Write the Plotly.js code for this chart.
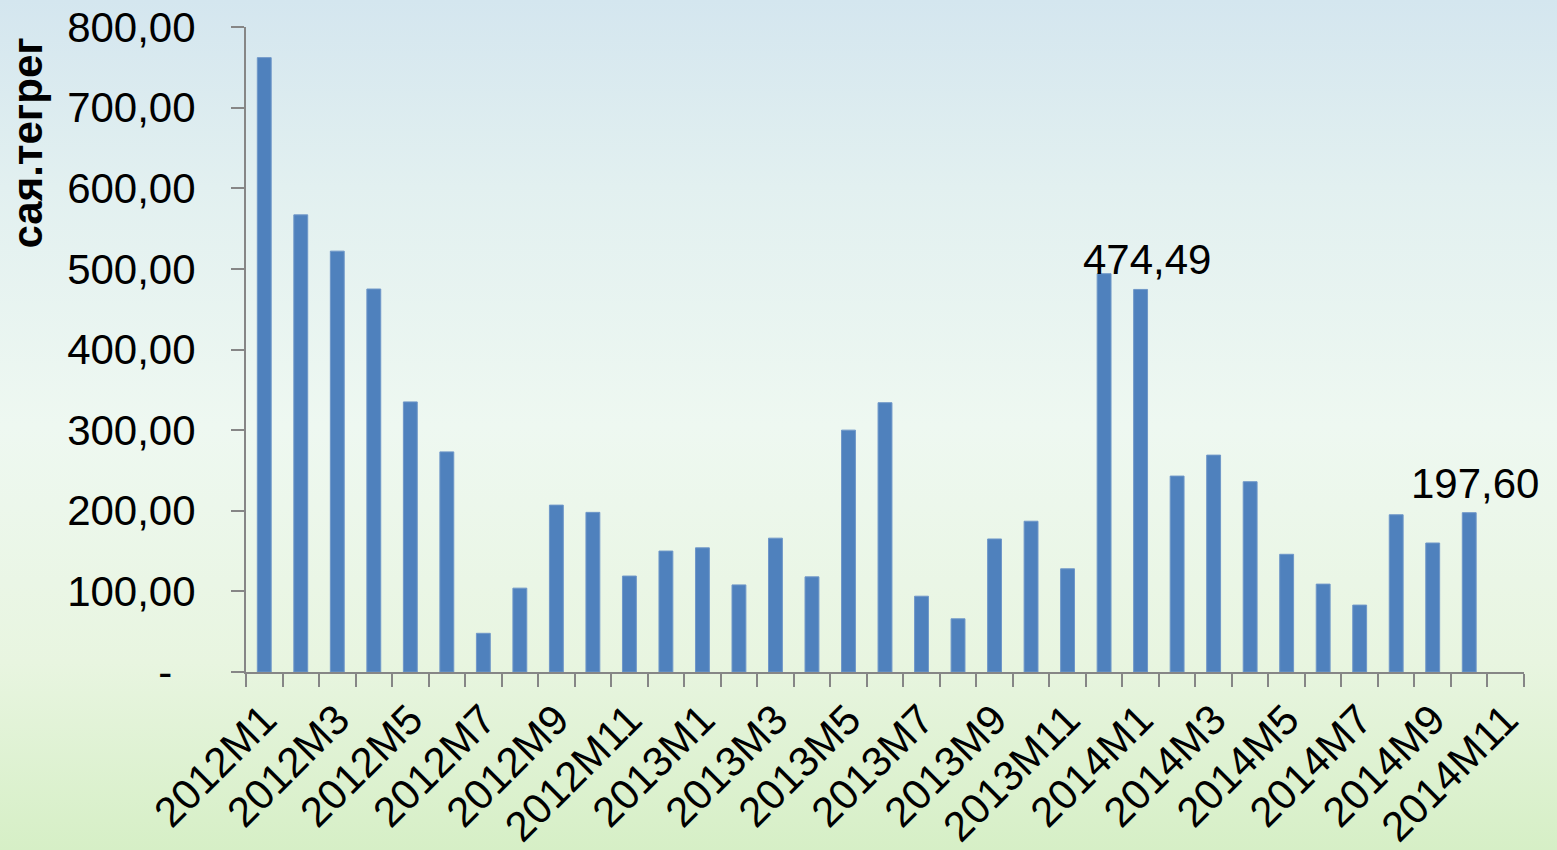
<!DOCTYPE html>
<html>
<head>
<meta charset="utf-8">
<script src="https://cdn.plot.ly/plotly-3.0.1.min.js"></script>
<style>
  html, body { margin: 0; padding: 0; }
  body {
    width: 1557px; height: 850px; overflow: hidden;
    background: linear-gradient(to bottom, #d4e6ef 0%, #e2f0f0 22%, #eef8f1 50%, #e8f5e0 78%, #d6efc6 100%);
  }
  #plotArea { width: 1557px; height: 850px; }
</style>
</head>
<body>
<div id="plotArea"></div>
<script>
// months 2012M1 .. 2014M11
var months = [
  "2012M1", "2012M2", "2012M3", "2012M4", "2012M5", "2012M6", "2012M7", "2012M8", "2012M9", "2012M10", "2012M11", "2012M12",
  "2013M1", "2013M2", "2013M3", "2013M4", "2013M5", "2013M6", "2013M7", "2013M8", "2013M9", "2013M10", "2013M11", "2013M12",
  "2014M1", "2014M2", "2014M3", "2014M4", "2014M5", "2014M6", "2014M7", "2014M8", "2014M9", "2014M10", "2014M11"
];

// сая.төгрөг (2014M11 has no value)
var values = [
  762, 567, 522, 475, 335, 273, 48, 104, 207, 198, 119, 150,
  154, 108, 166, 118, 300, 334, 94, 66, 165, 187, 128, 494,
  474.49, 243, 269, 236, 146, 109, 83, 195, 160, 197.60, null
];

// only these bars carry a value label
var labelled = ["2014M1", "2014M10"];

var yTicks = [0, 100, 200, 300, 400, 500, 600, 700, 800];
// accounting style: zero shown as a dash, padded like Excel does
var yTickText = ["-\u00a0\u00a0", "100,00", "200,00", "300,00", "400,00", "500,00", "600,00", "700,00", "800,00"];

// every tick drawn, every second month labelled
var xTickText = months.map(function (m, i) { return i % 2 === 0 ? m : ""; });

function fmt(v) {
  return v.toFixed(2).replace(".", ",");
}

var trace = {
  x: months,
  y: values,
  type: "bar",
  marker: {color: "#4f81bd", line: {color: "#6f97c8", width: 1}},
  hoverinfo: "x+y"
};

var notes = labelled.map(function (m) {
  var v = values[months.indexOf(m)];
  return {
    x: m, y: v, xref: "x", yref: "y",
    text: fmt(v), showarrow: false,
    yanchor: "bottom", yshift: 4, xshift: 6,
    font: {family: "Liberation Sans, Arial, sans-serif", size: 42, color: "#000"}
  };
});

notes.push({
  xref: "paper", yref: "paper", x: -0.171, y: 0.82,
  xanchor: "center", yanchor: "middle",
  text: "<b>сая.тегрег</b>", textangle: -90, showarrow: false,
  font: {family: "Liberation Sans, Arial, sans-serif", size: 42, color: "#000"}
});

var layout = {
  width: 1557,
  height: 850,
  margin: {l: 246, r: 33, t: 27, b: 178},
  paper_bgcolor: "rgba(0,0,0,0)",
  plot_bgcolor: "rgba(0,0,0,0)",
  bargap: 0.62,
  showlegend: false,
  font: {family: "Liberation Sans, Arial, sans-serif", color: "#000"},
  xaxis: {
    type: "category",
    range: [-0.5, months.length - 0.5],
    automargin: false,
    tickmode: "array",
    tickvals: months,
    ticktext: xTickText,
    tickson: "boundaries",
    ticks: "outside",
    ticklen: 13,
    tickwidth: 2,
    tickcolor: "#868686",
    tickangle: -45,
    ticklabelstandoff: 4,
    tickfont: {size: 42},
    showline: true,
    linecolor: "#868686",
    linewidth: 2,
    showgrid: false,
    zeroline: false
  },
  yaxis: {
    range: [0, 800],
    automargin: false,
    tickmode: "array",
    tickvals: yTicks,
    ticktext: yTickText,
    ticks: "outside",
    ticklen: 13,
    tickwidth: 2,
    tickcolor: "#868686",
    ticklabelstandoff: 27,
    tickfont: {size: 42},
    showline: true,
    linecolor: "#868686",
    linewidth: 2,
    showgrid: false,
    zeroline: false
  },
  annotations: notes
};

Plotly.newPlot("plotArea", [trace], layout, {displayModeBar: false});
</script>
</body>
</html>
